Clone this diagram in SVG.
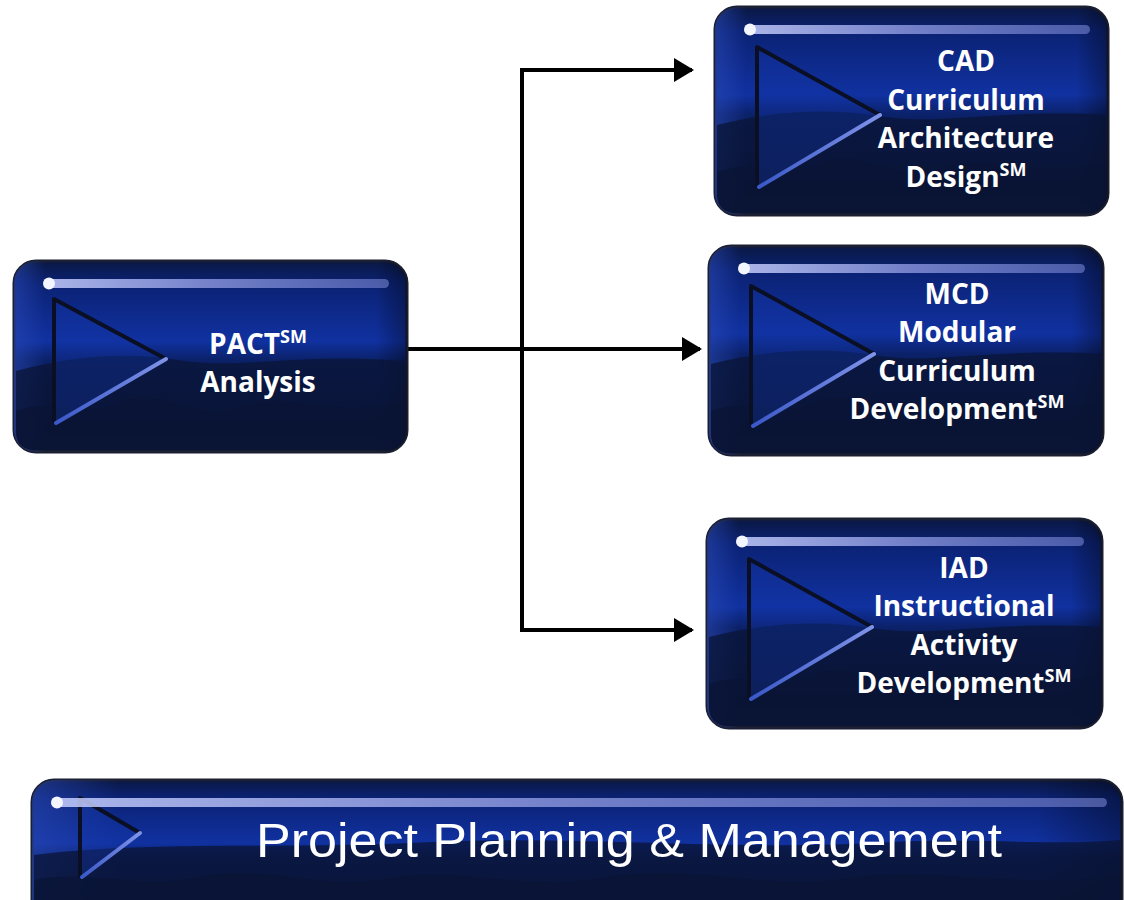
<svg xmlns="http://www.w3.org/2000/svg" width="1124" height="900" viewBox="0 0 1124 900">
<defs>
  <linearGradient id="body" x1="0" y1="0" x2="0" y2="1">
    <stop offset="0" stop-color="#0a1844"/>
    <stop offset="0.12" stop-color="#0b2274"/>
    <stop offset="0.42" stop-color="#1031a0"/>
    <stop offset="0.52" stop-color="#0b2168"/>
    <stop offset="0.78" stop-color="#0c1a48"/>
    <stop offset="1" stop-color="#181b28"/>
  </linearGradient>
  <linearGradient id="side" x1="0" y1="0" x2="1" y2="0">
    <stop offset="0" stop-color="#2a4ab8" stop-opacity="0.55"/>
    <stop offset="0.08" stop-color="#2a4ab8" stop-opacity="0"/>
    <stop offset="0.92" stop-color="#000" stop-opacity="0"/>
    <stop offset="1" stop-color="#000" stop-opacity="0.35"/>
  </linearGradient>
  <linearGradient id="hl" x1="0" y1="0" x2="1" y2="0">
    <stop offset="0" stop-color="#c8d0ff"/>
    <stop offset="0.5" stop-color="#8490d8"/>
    <stop offset="1" stop-color="#7683d0" stop-opacity="0.7"/>
  </linearGradient>
  <linearGradient id="triEdge" x1="0" y1="0" x2="1" y2="0">
    <stop offset="0" stop-color="#3a58c8"/>
    <stop offset="1" stop-color="#7f93e8"/>
  </linearGradient>
  <marker id="arr" markerWidth="5" markerHeight="6" refX="4.5" refY="3" orient="auto" markerUnits="strokeWidth">
    <path d="M0,0 L5,3 L0,6 Z" fill="#000"/>
  </marker>
  <style>
    .frame{fill:url(#body);stroke:#1b1f33;stroke-width:3}
    .shade{fill:url(#side)}
    .wave{fill:#0a1436;opacity:0.75}
    .hl{fill:url(#hl);opacity:0.85}
    .dot{fill:#f4f6ff}
    .triDark{fill:none;stroke:#0a0f24;stroke-width:4;stroke-linejoin:round}
    .triLight{fill:none;stroke:url(#triEdge);stroke-width:4;stroke-linecap:round}
    .triFill{fill:#1536a8;opacity:0.35}
    .lbl{font-family:"Open Sans","Liberation Sans",sans-serif;font-weight:700;font-size:28px;fill:#fff;text-anchor:middle}
    .big{font-family:"Liberation Sans Narrow","Liberation Sans",sans-serif;font-size:48px;fill:#fff}
    .conn{fill:none;stroke:#000;stroke-width:4}
  </style>
</defs>

<g id="connectors">
  <path class="conn" d="M405,349 L700,349" marker-end="url(#arr)"/>
  <path class="conn" d="M540,70 L522,70 L522,630 L540,630"/>
  <path class="conn" d="M522,70 L692,70" marker-end="url(#arr)"/>
  <path class="conn" d="M522,630 L692,630" marker-end="url(#arr)"/>
</g>

<g id="node-pact" transform="translate(14,261)">
  <rect class="frame" x="0" y="0" width="393" height="191" rx="22"/>
  <rect class="shade" x="0" y="0" width="393" height="191" rx="22"/>
  <path class="wave" d="M2,110 C60,95 110,90 170,100 C230,108 280,92 391,100 L391,170 Q391,189 370,189 L22,189 Q2,189 2,170 Z"/>
  <path class="wave" d="M2,150 C40,135 70,160 110,140 C150,125 180,165 230,145 C280,130 320,160 391,140 L391,170 Q391,189 370,189 L22,189 Q2,189 2,170 Z"/>
  <path class="triFill" d="M40,38 L152,98 L40,162 Z"/>
  <path class="triDark" d="M40,162 L40,38 L152,98"/>
  <path class="triLight" d="M152,98 L42,162"/>
  <rect class="hl" x="30" y="18" width="345" height="9" rx="4.5"/>
  <circle class="dot" cx="35" cy="22.5" r="6"/>
  <text class="lbl" x="244" y="93">PACT<tspan font-size="18" dy="-11">SM</tspan></text>
  <text class="lbl" x="244" y="131">Analysis</text>
</g>

<g id="node-cad" transform="translate(715,7)">
  <rect class="frame" x="0" y="0" width="393" height="208" rx="22"/>
  <rect class="shade" x="0" y="0" width="393" height="208" rx="22"/>
  <path class="wave" d="M2,118 C60,104 110,100 170,110 C230,118 280,102 391,108 L391,186 Q391,206 370,206 L22,206 Q2,206 2,186 Z"/>
  <path class="wave" d="M2,165 C40,150 70,175 110,155 C150,140 180,180 230,160 C280,145 320,175 391,155 L391,186 Q391,206 370,206 L22,206 Q2,206 2,186 Z"/>
  <path class="triFill" d="M42,40 L165,108 L42,180 Z"/>
  <path class="triDark" d="M42,180 L42,40 L165,108"/>
  <path class="triLight" d="M165,108 L44,180"/>
  <rect class="hl" x="30" y="18" width="345" height="9" rx="4.5"/>
  <circle class="dot" cx="35" cy="22.5" r="6"/>
  <text class="lbl" x="251" y="64">CAD</text>
  <text class="lbl" x="251" y="103">Curriculum</text>
  <text class="lbl" x="251" y="141">Architecture</text>
  <text class="lbl" x="251" y="180">Design<tspan font-size="18" dy="-11">SM</tspan></text>
</g>

<g id="node-mcd" transform="translate(709,246)">
  <rect class="frame" x="0" y="0" width="394" height="209" rx="22"/>
  <rect class="shade" x="0" y="0" width="394" height="209" rx="22"/>
  <path class="wave" d="M2,118 C60,104 110,100 170,110 C230,118 280,102 392,108 L392,187 Q392,207 371,207 L22,207 Q2,207 2,187 Z"/>
  <path class="wave" d="M2,165 C40,150 70,175 110,155 C150,140 180,180 230,160 C280,145 320,175 392,155 L392,187 Q392,207 371,207 L22,207 Q2,207 2,187 Z"/>
  <path class="triFill" d="M42,40 L165,108 L42,180 Z"/>
  <path class="triDark" d="M42,180 L42,40 L165,108"/>
  <path class="triLight" d="M165,108 L44,180"/>
  <rect class="hl" x="30" y="18" width="346" height="9" rx="4.5"/>
  <circle class="dot" cx="35" cy="22.5" r="6"/>
  <text class="lbl" x="248" y="58">MCD</text>
  <text class="lbl" x="248" y="96">Modular</text>
  <text class="lbl" x="248" y="135">Curriculum</text>
  <text class="lbl" x="248" y="173">Development<tspan font-size="18" dy="-11">SM</tspan></text>
</g>

<g id="node-iad" transform="translate(707,519)">
  <rect class="frame" x="0" y="0" width="395" height="209" rx="22"/>
  <rect class="shade" x="0" y="0" width="395" height="209" rx="22"/>
  <path class="wave" d="M2,118 C60,104 110,100 170,110 C230,118 280,102 393,108 L393,187 Q393,207 372,207 L22,207 Q2,207 2,187 Z"/>
  <path class="wave" d="M2,165 C40,150 70,175 110,155 C150,140 180,180 230,160 C280,145 320,175 393,155 L393,187 Q393,207 372,207 L22,207 Q2,207 2,187 Z"/>
  <path class="triFill" d="M42,40 L165,108 L42,180 Z"/>
  <path class="triDark" d="M42,180 L42,40 L165,108"/>
  <path class="triLight" d="M165,108 L44,180"/>
  <rect class="hl" x="30" y="18" width="347" height="9" rx="4.5"/>
  <circle class="dot" cx="35" cy="22.5" r="6"/>
  <text class="lbl" x="257" y="59">IAD</text>
  <text class="lbl" x="257" y="97">Instructional</text>
  <text class="lbl" x="257" y="136">Activity</text>
  <text class="lbl" x="257" y="174">Development<tspan font-size="18" dy="-11">SM</tspan></text>
</g>

<g id="node-ppm" transform="translate(32,780)">
  <rect class="frame" x="0" y="0" width="1090" height="150" rx="22"/>
  <rect class="shade" x="0" y="0" width="1090" height="150" rx="22"/>
  <path class="wave" d="M2,75 C120,60 250,70 400,62 C560,55 700,72 860,62 C960,58 1030,66 1088,60 L1088,122 L2,122 Z"/>
  <path class="wave" d="M2,100 C60,88 110,112 170,96 C230,84 290,112 360,98 C430,86 500,114 580,96 C660,84 740,112 820,98 C900,86 980,110 1088,96 L1088,122 L2,122 Z"/>
  <path class="triFill" d="M48,18 L108,53 L48,97 Z"/>
  <path class="triDark" d="M48,97 L48,18 L108,53"/>
  <path class="triLight" d="M108,53 L50,97"/>
  <rect class="hl" x="20" y="18" width="1055" height="9" rx="4.5"/>
  <circle class="dot" cx="25" cy="22.5" r="6"/>
  <text class="big" x="224" y="77" textLength="746" lengthAdjust="spacingAndGlyphs">Project Planning &amp; Management</text>
</g>
</svg>
